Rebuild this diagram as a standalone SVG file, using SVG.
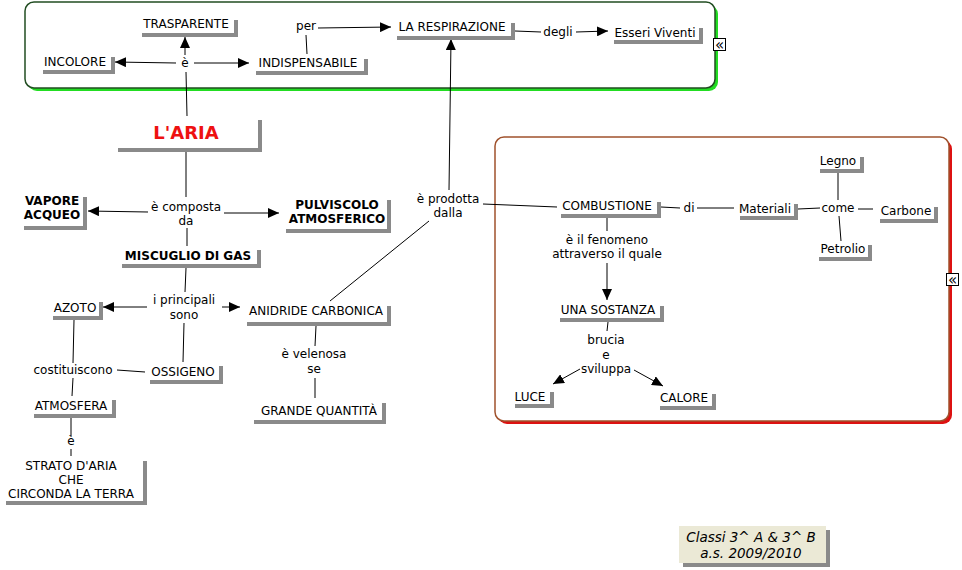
<svg xmlns="http://www.w3.org/2000/svg" width="962" height="570" viewBox="0 0 962 570">
<defs>
<marker id="arr" markerUnits="userSpaceOnUse" markerWidth="11" markerHeight="10" refX="11" refY="5" orient="auto">
<path d="M0,0 L11,5 L0,10 z" fill="#000"/>
</marker>
</defs>
<style>
text{font-family:"DejaVu Sans",Verdana,sans-serif;font-size:12px;fill:#000;text-anchor:middle}
.b{font-weight:bold}
.big{font-size:18px;font-weight:bold;fill:#ee1111}
.it{font-style:italic;font-size:13.5px}
.sh{fill:#8a8a8a}
.bx{fill:#fff}
.c line{stroke:#000;stroke-width:1}
.a{marker-end:url(#arr)}
.ic{fill:#fff;stroke:#000;stroke-width:1}
.icg{font-size:15px}
</style>
<rect width="962" height="570" fill="#fff"/>
<g id="grp-top">
<rect x="28" y="5" width="690" height="86" rx="9" fill="#22dd22"/>
<rect x="25" y="2" width="690" height="86" rx="9" fill="#fff" stroke="#224d22" stroke-width="1.5"/>
</g>
<g id="grp-comb">
<rect x="498" y="140" width="454" height="284" rx="9" fill="#dd1111"/>
<rect x="495" y="137" width="454" height="284" rx="9" fill="#fff" stroke="#a0522d" stroke-width="1.5"/>
</g>
<g class="c" id="connectors">
<line x1="186" y1="72" x2="187" y2="116"/>
<line class="a" x1="185" y1="55" x2="185" y2="37"/>
<line class="a" x1="176" y1="63" x2="115" y2="62"/>
<line class="a" x1="194" y1="63" x2="249" y2="63"/>
<line x1="307" y1="54" x2="306" y2="35"/>
<line class="a" x1="318" y1="28" x2="391" y2="27"/>
<line x1="515" y1="31" x2="541" y2="32"/>
<line class="a" x1="576" y1="32" x2="608" y2="31"/>
<line x1="186" y1="152" x2="186" y2="197"/>
<line class="a" x1="148" y1="212" x2="88" y2="211"/>
<line class="a" x1="224" y1="213" x2="279" y2="213"/>
<line x1="187" y1="228" x2="187" y2="246"/>
<line x1="186" y1="268" x2="185" y2="292"/>
<line class="a" x1="147" y1="307" x2="103" y2="307"/>
<line class="a" x1="222" y1="307" x2="240" y2="307"/>
<line x1="184" y1="323" x2="183" y2="362"/>
<line x1="74" y1="320" x2="73" y2="363"/>
<line x1="117" y1="370" x2="145" y2="372"/>
<line x1="73" y1="378" x2="72" y2="396"/>
<line x1="71" y1="418" x2="71" y2="436"/>
<line x1="71" y1="449" x2="71" y2="456"/>
<line x1="316" y1="326" x2="315" y2="346"/>
<line x1="315" y1="378" x2="315" y2="398"/>
<line class="a" x1="449" y1="190" x2="451" y2="39"/>
<line x1="330" y1="301" x2="429" y2="221"/>
<line x1="483" y1="204" x2="557" y2="207"/>
<line x1="661" y1="207" x2="680" y2="208"/>
<line x1="697" y1="208" x2="734" y2="208"/>
<line x1="798" y1="209" x2="820" y2="208"/>
<line x1="858" y1="209" x2="873" y2="209"/>
<line x1="838" y1="173" x2="838" y2="200"/>
<line x1="839" y1="216" x2="841" y2="241"/>
<line x1="607" y1="218" x2="607" y2="231"/>
<line class="a" x1="607" y1="263" x2="607" y2="300"/>
<line x1="608" y1="322" x2="607" y2="331"/>
<line class="a" x1="580" y1="369" x2="553" y2="384"/>
<line class="a" x1="634" y1="370" x2="663" y2="386"/>
</g>
<g id="n-trasparente"><rect class="sh" x="142" y="20" width="96" height="17"/><rect class="bx" x="138" y="16" width="96" height="17"/><text x="186" y="28">TRASPARENTE</text></g>
<g id="n-incolore"><rect class="sh" x="43" y="57" width="72" height="17"/><rect class="bx" x="39" y="53" width="72" height="17"/><text x="75" y="66">INCOLORE</text></g>
<g id="n-indispensabile"><rect class="sh" x="256" y="59" width="112" height="16"/><rect class="bx" x="252" y="55" width="112" height="16"/><text x="308" y="67">INDISPENSABILE</text></g>
<g id="n-respirazione"><rect class="sh" x="397" y="23" width="118" height="17"/><rect class="bx" x="393" y="19" width="118" height="17"/><text x="452" y="31">LA RESPIRAZIONE</text></g>
<g id="n-esseri"><rect class="sh" x="614" y="28" width="89" height="16"/><rect class="bx" x="610" y="24" width="89" height="16"/><text x="655" y="37">Esseri Viventi</text></g>
<g id="n-aria"><rect class="sh" x="118" y="120" width="144" height="32"/><rect class="bx" x="114" y="116" width="144" height="32"/><text class="big" x="186" y="139">L'ARIA</text></g>
<g id="n-vapore"><rect class="sh" x="24" y="197" width="63" height="33"/><rect class="bx" x="20" y="193" width="63" height="33"/><text class="b" x="52" y="205">VAPORE</text><text class="b" x="52" y="219">ACQUEO</text></g>
<g id="n-pulviscolo"><rect class="sh" x="286" y="200" width="105" height="33"/><rect class="bx" x="282" y="196" width="105" height="33"/><text class="b" x="337" y="209">PULVISCOLO</text><text class="b" x="337" y="223">ATMOSFERICO</text></g>
<g id="n-miscuglio"><rect class="sh" x="122" y="250" width="139" height="18"/><rect class="bx" x="118" y="246" width="139" height="18"/><text class="b" x="188" y="260">MISCUGLIO DI GAS</text></g>
<g id="n-azoto"><rect class="sh" x="53" y="302" width="50" height="18"/><rect class="bx" x="49" y="298" width="50" height="18"/><text x="75" y="312">AZOTO</text></g>
<g id="n-anidride"><rect class="sh" x="247" y="306" width="144" height="20"/><rect class="bx" x="243" y="302" width="144" height="20"/><text x="316" y="315">ANIDRIDE CARBONICA</text></g>
<g id="n-ossigeno"><rect class="sh" x="150" y="366" width="73" height="18"/><rect class="bx" x="146" y="362" width="73" height="18"/><text x="183" y="376">OSSIGENO</text></g>
<g id="n-atmosfera"><rect class="sh" x="34" y="400" width="82" height="18"/><rect class="bx" x="30" y="396" width="82" height="18"/><text x="71" y="410">ATMOSFERA</text></g>
<g id="n-strato"><rect class="sh" x="6" y="461" width="141" height="44"/><rect class="bx" x="2" y="457" width="141" height="44"/><text x="71" y="470">STRATO D'ARIA</text><text x="71" y="484">CHE</text><text x="71" y="498">CIRCONDA LA TERRA</text></g>
<g id="n-grande"><rect class="sh" x="254" y="403" width="132" height="21"/><rect class="bx" x="250" y="399" width="132" height="21"/><text x="319" y="415">GRANDE QUANTITÀ</text></g>
<g id="n-combustione"><rect class="sh" x="561" y="202" width="100" height="16"/><rect class="bx" x="557" y="198" width="100" height="16"/><text x="607" y="210">COMBUSTIONE</text></g>
<g id="n-materiali"><rect class="sh" x="740" y="204" width="58" height="16"/><rect class="bx" x="736" y="200" width="58" height="16"/><text x="765" y="213">Materiali</text></g>
<g id="n-carbone"><rect class="sh" x="880" y="207" width="58" height="16"/><rect class="bx" x="876" y="203" width="58" height="16"/><text x="906" y="215">Carbone</text></g>
<g id="n-legno"><rect class="sh" x="820" y="157" width="44" height="16"/><rect class="bx" x="816" y="153" width="44" height="16"/><text x="838" y="165">Legno</text></g>
<g id="n-petrolio"><rect class="sh" x="819" y="245" width="53" height="16"/><rect class="bx" x="815" y="241" width="53" height="16"/><text x="843" y="253">Petrolio</text></g>
<g id="n-sostanza"><rect class="sh" x="560" y="306" width="104" height="16"/><rect class="bx" x="556" y="302" width="104" height="16"/><text x="608" y="314">UNA SOSTANZA</text></g>
<g id="n-luce"><rect class="sh" x="515" y="392" width="39" height="16"/><rect class="bx" x="511" y="388" width="39" height="16"/><text x="530" y="401">LUCE</text></g>
<g id="n-calore"><rect class="sh" x="660" y="394" width="56" height="16"/><rect class="bx" x="656" y="390" width="56" height="16"/><text x="684" y="402">CALORE</text></g>
<g id="labels">
<text x="185" y="67">è</text>
<text x="306" y="30">per</text>
<text x="558" y="36">degli</text>
<text x="186" y="211">è composta</text><text x="186" y="225">da</text>
<text x="184" y="304">i principali</text><text x="184" y="319">sono</text>
<text x="73" y="374">costituiscono</text>
<text x="71" y="445">è</text>
<text x="314" y="358">è velenosa</text><text x="314" y="373">se</text>
<text x="448" y="203">è prodotta</text><text x="448" y="217">dalla</text>
<text x="689" y="212">di</text>
<text x="838" y="212">come</text>
<text x="607" y="244">è il fenomeno</text><text x="607" y="258">attraverso il quale</text>
<text x="606" y="344">brucia</text><text x="606" y="359">e</text><text x="606" y="373">sviluppa</text>
</g>
<g id="n-classi"><rect class="sh" x="683" y="530" width="147" height="37"/><rect x="679" y="526" width="147" height="37" fill="#ebe9d6"/><text class="it" x="751" y="542">Classi 3^ A &amp; 3^ B</text><text class="it" x="751" y="558">a.s. 2009/2010</text></g>
<g id="icons">
<rect class="ic" x="713.5" y="38.5" width="12" height="12"/><text class="icg" x="719.5" y="49.5">«</text>
<rect class="ic" x="946.5" y="273.5" width="12" height="12"/><text class="icg" x="952.5" y="284.5">«</text>
</g>
</svg>
